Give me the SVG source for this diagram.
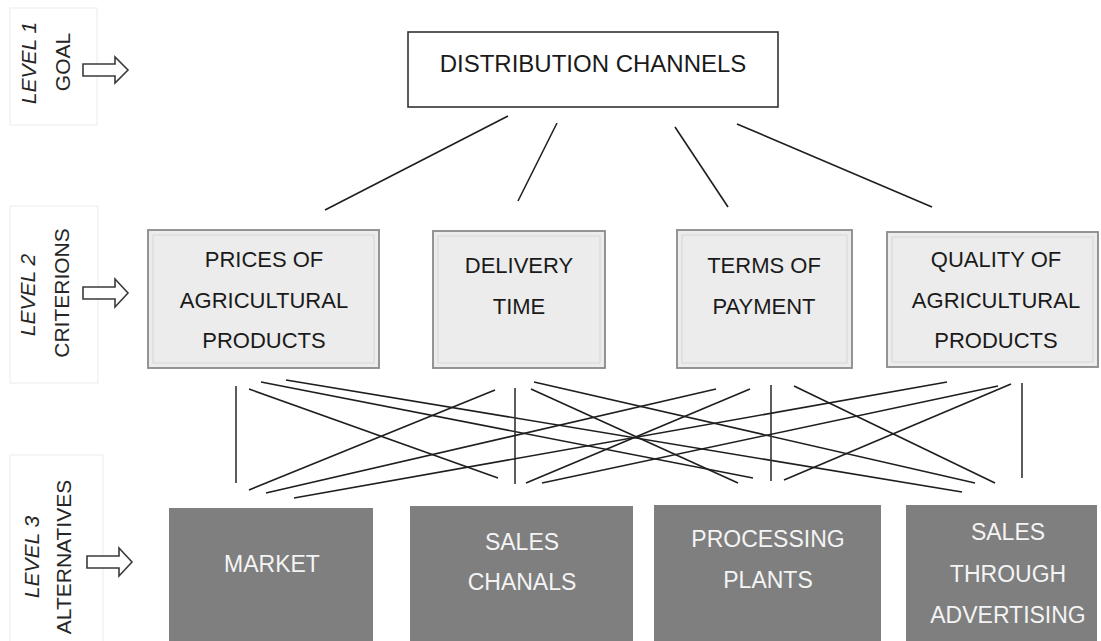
<svg xmlns="http://www.w3.org/2000/svg" width="1101" height="641" viewBox="0 0 1101 641">
<style>
.panel{fill:none;stroke:#ebebeb;stroke-width:1}
.lvl{font-family:"Liberation Sans",Arial,sans-serif;font-size:21px;font-style:italic;fill:#262626;text-anchor:middle}
.lname{font-family:"Liberation Sans",Arial,sans-serif;font-size:21px;fill:#262626;text-anchor:middle}
.arrow{fill:#fff;stroke:#3a3a3a;stroke-width:1.6;stroke-linejoin:miter}
.goal{fill:#fff;stroke:#333;stroke-width:1.6}
.crit{fill:#ececec;stroke:#8a8a8a;stroke-width:1.8}
.critin{fill:none;stroke:#d6d6d6;stroke-width:1}
.alt{fill:#7f7f7f;stroke:none}
.t{font-family:"Liberation Sans",Arial,sans-serif;font-size:22px;fill:#1a1a1a;text-anchor:middle}
.tg{font-family:"Liberation Sans",Arial,sans-serif;font-size:24px;fill:#1a1a1a;text-anchor:middle}
.ta{font-family:"Liberation Sans",Arial,sans-serif;font-size:23px;fill:#f4f4f4;text-anchor:middle}
.c line{stroke:#1e1e1e;stroke-width:1.6}
.c line.v{stroke:#333}
</style>

<g id="levels">
  <rect class="panel" x="10" y="8" width="87" height="117"/>
  <rect class="panel" x="10" y="206" width="88" height="177"/>
  <rect class="panel" x="10" y="455" width="93" height="190"/>
  <text class="lvl" transform="translate(36,63) rotate(-90)">LEVEL 1</text>
  <text class="lname" transform="translate(70,62) rotate(-90)">GOAL</text>
  <text class="lvl" transform="translate(35,295) rotate(-90)">LEVEL 2</text>
  <text class="lname" transform="translate(69,293) rotate(-90)">CRITERIONS</text>
  <text class="lvl" transform="translate(39,557) rotate(-90)">LEVEL 3</text>
  <text class="lname" transform="translate(71,557) rotate(-90)">ALTERNATIVES</text>
  <path class="arrow" d="M83,64 H115 V57 L128,70 L115,83 V76 H83 Z"/>
  <path class="arrow" d="M83,287 H115 V279 L128,293 L115,307 V299 H83 Z"/>
  <path class="arrow" d="M87,556 H119 V548 L132,562 L119,576 V568 H87 Z"/>
</g>

<g class="c" id="connectors">
  <line x1="508" y1="116" x2="325" y2="210"/>
  <line x1="557" y1="123" x2="518" y2="201"/>
  <line x1="675" y1="127" x2="728" y2="207"/>
  <line x1="737" y1="124" x2="932" y2="207"/>

  <line class="v" x1="236" y1="386" x2="236" y2="483"/>
  <line x1="249" y1="389" x2="498" y2="478"/>
  <line x1="261" y1="382" x2="753" y2="478"/>
  <line x1="286" y1="380" x2="962" y2="492"/>

  <line x1="495" y1="390" x2="249" y2="490"/>
  <line class="v" x1="515" y1="388" x2="515" y2="484"/>
  <line x1="531" y1="389" x2="738" y2="483"/>
  <line x1="534" y1="382" x2="975" y2="483"/>

  <line x1="716" y1="389" x2="266" y2="493"/>
  <line x1="750" y1="389" x2="526" y2="483"/>
  <line class="v" x1="771" y1="385" x2="771" y2="481"/>
  <line x1="794" y1="386" x2="995" y2="483"/>

  <line x1="947" y1="382" x2="294" y2="498"/>
  <line x1="998" y1="386" x2="542" y2="483"/>
  <line x1="1011" y1="384" x2="784" y2="480"/>
  <line class="v" x1="1022" y1="383" x2="1022" y2="478"/>
</g>

<g id="goal">
  <rect class="goal" x="408" y="32" width="370" height="75"/>
  <text class="tg" x="593" y="72">DISTRIBUTION CHANNELS</text>
</g>

<g id="crit1">
  <rect class="crit" x="148" y="230" width="231" height="138"/>
  <rect class="critin" x="153" y="235" width="221" height="128"/>
  <text class="t" x="264" y="267">PRICES OF</text>
  <text class="t" x="264" y="308">AGRICULTURAL</text>
  <text class="t" x="264" y="348">PRODUCTS</text>
</g>
<g id="crit2">
  <rect class="crit" x="433" y="231" width="172" height="137"/>
  <rect class="critin" x="438" y="236" width="162" height="127"/>
  <text class="t" x="519" y="273">DELIVERY</text>
  <text class="t" x="519" y="314">TIME</text>
</g>
<g id="crit3">
  <rect class="crit" x="677" y="230" width="175" height="138"/>
  <rect class="critin" x="682" y="235" width="165" height="128"/>
  <text class="t" x="764" y="273">TERMS OF</text>
  <text class="t" x="764" y="314">PAYMENT</text>
</g>
<g id="crit4">
  <rect class="crit" x="887" y="232" width="211" height="135"/>
  <rect class="critin" x="892" y="237" width="201" height="125"/>
  <text class="t" x="996" y="267">QUALITY OF</text>
  <text class="t" x="996" y="308">AGRICULTURAL</text>
  <text class="t" x="996" y="348">PRODUCTS</text>
</g>

<g id="alt1">
  <rect class="alt" x="169" y="508" width="204" height="140"/>
  <text class="ta" x="272" y="572">MARKET</text>
</g>
<g id="alt2">
  <rect class="alt" x="410" y="506" width="223" height="140"/>
  <text class="ta" x="522" y="550">SALES</text>
  <text class="ta" x="522" y="590">CHANALS</text>
</g>
<g id="alt3">
  <rect class="alt" x="654" y="505" width="227" height="140"/>
  <text class="ta" x="768" y="547">PROCESSING</text>
  <text class="ta" x="768" y="588">PLANTS</text>
</g>
<g id="alt4">
  <rect class="alt" x="906" y="505" width="191" height="140"/>
  <text class="ta" x="1008" y="540">SALES</text>
  <text class="ta" x="1008" y="582">THROUGH</text>
  <text class="ta" x="1008" y="623">ADVERTISING</text>
</g>
</svg>
